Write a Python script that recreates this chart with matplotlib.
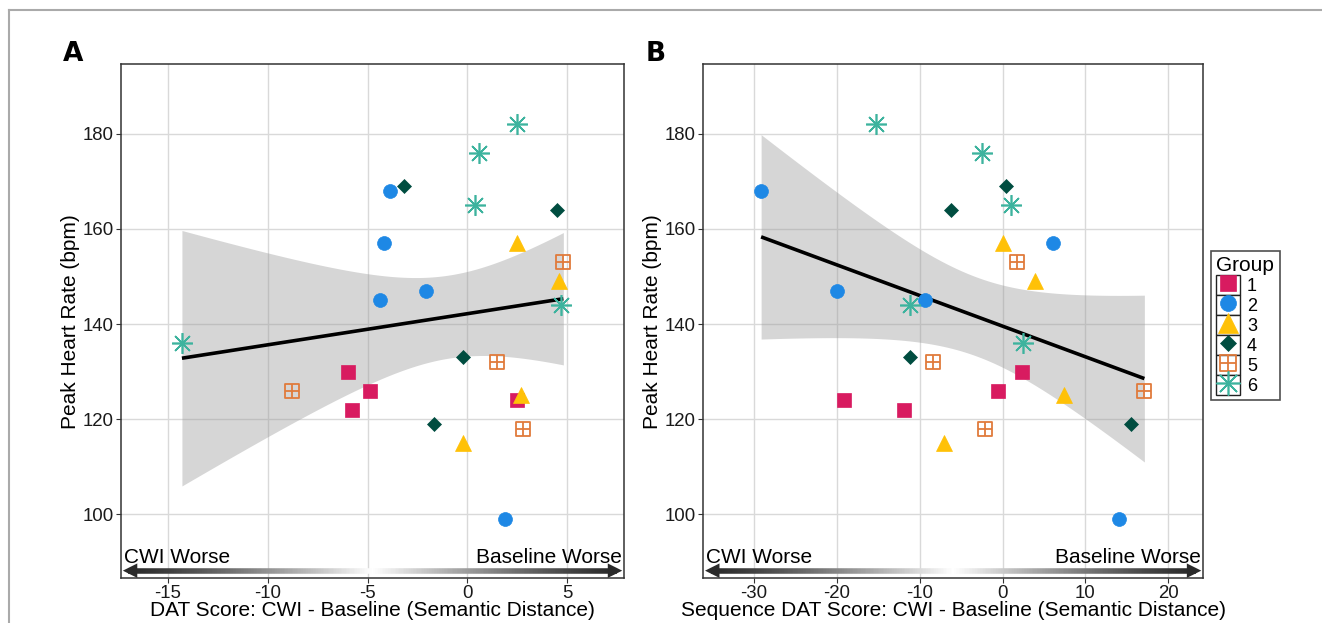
import numpy as np
import matplotlib
matplotlib.use("Agg")
import matplotlib.pyplot as plt
from matplotlib.path import Path
from matplotlib.collections import LineCollection
from matplotlib.patches import Rectangle
from matplotlib.lines import Line2D
from matplotlib.legend_handler import HandlerTuple

plt.rcParams['font.family'] = ['Liberation Sans', 'DejaVu Sans']

# peak heart rate per participant, by group
grupos = ['1', '2', '3', '4', '5', '6']
hr_g1 = [130, 126, 124, 122]
hr_g2 = [168, 157, 147, 145, 99]
hr_g3 = [157, 149, 125, 115]
hr_g4 = [169, 164, 133, 119]
hr_g5 = [153, 132, 126, 118]
hr_g6 = [182, 176, 165, 144, 136]

# DAT score difference (panel A)
dat_g1 = [-6.0, -4.9, 2.5, -5.8]
dat_g2 = [-3.9, -4.2, -2.1, -4.4, 1.9]
dat_g3 = [2.5, 4.6, 2.7, -0.2]
dat_g4 = [-3.2, 4.5, -0.2, -1.7]
dat_g5 = [4.8, 1.5, -8.8, 2.8]
dat_g6 = [2.5, 0.6, 0.4, 4.7, -14.3]

# sequence DAT score difference (panel B)
seq_g1 = [2.4, -0.5, -19.1, -11.9]
seq_g2 = [-29.1, 6.1, -20.0, -9.3, 14.0]
seq_g3 = [0.0, 3.9, 7.4, -7.0]
seq_g4 = [0.4, -6.2, -11.1, 15.5]
seq_g5 = [1.7, -8.4, 17.1, -2.1]
seq_g6 = [-15.2, -2.5, 1.0, -11.1, 2.5]

hr = [hr_g1, hr_g2, hr_g3, hr_g4, hr_g5, hr_g6]
dat = [dat_g1, dat_g2, dat_g3, dat_g4, dat_g5, dat_g6]
seq = [seq_g1, seq_g2, seq_g3, seq_g4, seq_g5, seq_g6]

cores = ['#D81B60', '#1E88E5', '#FFC107', '#004D40', '#E07B3C', '#3DB39E']

quad_mais = Path([(-1, -1), (1, -1), (1, 1), (-1, 1), (-1, -1),
                  (0, -1), (0, 1), (-1, 0), (1, 0)],
                 [Path.MOVETO, Path.LINETO, Path.LINETO, Path.LINETO, Path.CLOSEPOLY,
                  Path.MOVETO, Path.LINETO, Path.MOVETO, Path.LINETO])

estilos = [
    dict(marker='s', ms=10, mfc=cores[0], mec=cores[0], mew=0.5),
    dict(marker='o', ms=10, mfc=cores[1], mec=cores[1], mew=0.5),
    dict(marker='^', ms=12, mfc=cores[2], mec=cores[2], mew=0.5),
    dict(marker='D', ms=7.5, mfc=cores[3], mec=cores[3], mew=0.5),
    dict(marker=quad_mais, ms=9.5, mfc='none', mec=cores[4], mew=1.3),
    dict(marker=(8, 2, 0), ms=15, mfc='none', mec=cores[5], mew=1.2),
]

T_CRIT = 2.0639  # t(0.975, df=24)


def banda_regressao(ax, x, y):
    x = np.asarray(x, float)
    y = np.asarray(y, float)
    n = len(x)
    b, a = np.polyfit(x, y, 1)
    xs = np.linspace(x.min(), x.max(), 200)
    ys = a + b * xs
    resid = y - (a + b * x)
    s = np.sqrt(np.sum(resid ** 2) / (n - 2))
    se = s * np.sqrt(1 / n + (xs - x.mean()) ** 2 / np.sum((x - x.mean()) ** 2))
    ax.fill_between(xs, ys - T_CRIT * se, ys + T_CRIT * se, color='#999999',
                    alpha=0.4, lw=0, zorder=2)
    ax.plot(xs, ys, color='black', lw=2.6, zorder=3, solid_capstyle='butt')


def seta_gradiente(ax):
    y0 = 0.0148
    t = np.linspace(0.015, 0.985, 300)
    segs = [[(t[i], y0), (t[i + 1], y0)] for i in range(len(t) - 1)]
    d = np.abs((t[:-1] + t[1:]) / 2 - 0.5) * 2
    g = 0.15 + 0.85 * (1 - d) ** 1.3
    lc = LineCollection(segs, colors=[(v, v, v) for v in g], linewidths=4,
                        transform=ax.transAxes, zorder=4)
    ax.add_collection(lc)
    for ini, fim in [((0.045, y0), (0.004, y0)), ((0.955, y0), (0.996, y0))]:
        ax.annotate('', xy=fim, xytext=ini, xycoords='axes fraction',
                    arrowprops=dict(arrowstyle='-|>', color='#2a2a2a', lw=0,
                                    mutation_scale=26, shrinkA=0, shrinkB=0),
                    zorder=5)
    ax.text(0.006, 0.03, 'CWI Worse', transform=ax.transAxes, fontsize=15,
            ha='left', va='baseline')
    ax.text(0.996, 0.03, 'Baseline Worse', transform=ax.transAxes, fontsize=15,
            ha='right', va='baseline')


def desenhar_painel(ax, xs_grupos, xlim, xticks, rotulo_x, letra):
    for i in range(len(grupos)):
        ax.plot(xs_grupos[i], hr[i], ls='none', zorder=6, **estilos[i])
    todos_x = np.concatenate([np.asarray(v, float) for v in xs_grupos])
    todos_y = np.concatenate([np.asarray(v, float) for v in hr])
    banda_regressao(ax, todos_x, todos_y)
    seta_gradiente(ax)
    ax.set_xlim(*xlim)
    ax.set_ylim(86.55, 194.6)
    ax.set_xticks(xticks)
    ax.set_xticklabels([str(v) for v in xticks])
    ax.set_yticks([100, 120, 140, 160, 180])
    ax.grid(True, color='#d9d9d9', lw=1.0)
    ax.set_axisbelow(True)
    for sp in ax.spines.values():
        sp.set_color('#333333')
        sp.set_linewidth(1.1)
    ax.tick_params(labelsize=13.4, length=3.5, color='#333333', width=0.8,
                   labelcolor='#1a1a1a', pad=1.5)
    ax.set_xlabel(rotulo_x, fontsize=15, labelpad=-1)
    ax.set_ylabel('Peak Heart Rate (bpm)', fontsize=15, labelpad=2)
    ax.text(-0.115, 0.995, letra, transform=ax.transAxes, fontsize=19,
            fontweight='bold', family='DejaVu Sans', ha='left', va='bottom')


fig = plt.figure(figsize=(13.22, 6.23), dpi=100)

# moldura externa cinza
fig.add_artist(Line2D([9 / 1322, 1.0], [1 - 10 / 623, 1 - 10 / 623],
                      transform=fig.transFigure, color='#aaaaaa', lw=1.5))
fig.add_artist(Line2D([9 / 1322, 9 / 1322], [0, 1 - 10 / 623],
                      transform=fig.transFigure, color='#aaaaaa', lw=1.5))

axA = fig.add_axes([0.0914, 0.0718, 0.3808, 0.825])
axB = fig.add_axes([0.5318, 0.0718, 0.3784, 0.825])

desenhar_painel(axA, dat, (-17.36, 7.85), [-15, -10, -5, 0, 5],
                'DAT Score: CWI - Baseline (Semantic Distance)', 'A')
desenhar_painel(axB, seq, (-36.1, 24.2), [-30, -20, -10, 0, 10, 20],
                'Sequence DAT Score: CWI - Baseline (Semantic Distance)', 'B')

handles = []
for i in range(len(grupos)):
    caixa = Rectangle((0, 0), 1, 1, facecolor='white', edgecolor='#222222', lw=1.0)
    est = dict(estilos[i])
    est['ms'] = est['ms'] * 1.15
    m = Line2D([], [], ls='none', **est)
    handles.append((caixa, m))

leg = fig.legend(handles, grupos, title='Group', loc='upper left',
                 bbox_to_anchor=(1211 / 1322, 1 - 251 / 623),
                 handler_map={tuple: HandlerTuple(ndivide=1, pad=0)},
                 handlelength=1.3, handleheight=1.3, labelspacing=0.0,
                 handletextpad=0.4, borderpad=0.3, fontsize=13,
                 title_fontsize=15, frameon=True, fancybox=False,
                 borderaxespad=0)
leg.get_frame().set_edgecolor('#222222')
leg.get_frame().set_linewidth(1.2)
leg._legend_box.align = 'left'

fig.savefig('out.png', dpi=100)
